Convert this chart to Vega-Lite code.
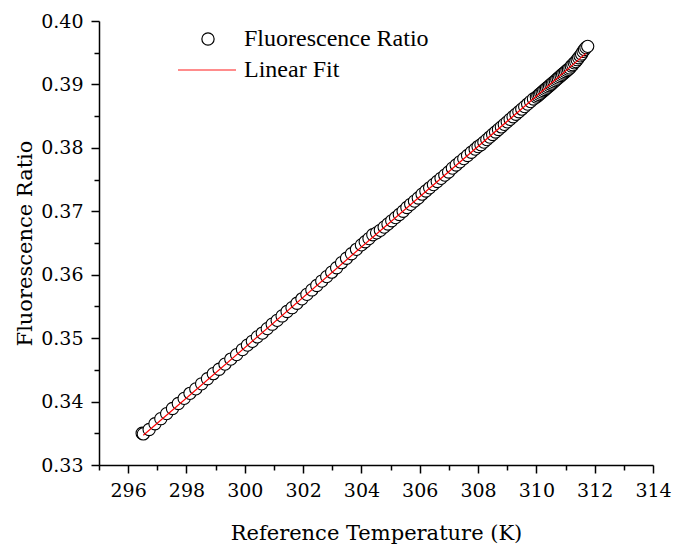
{
  "$schema": "https://vega.github.io/schema/vega-lite/v6.json",
  "width": 554,
  "height": 444,
  "autosize": {"type": "none"},
  "padding": {"left": 99, "top": 21, "right": 20, "bottom": 80},
  "config": {
    "view": {"stroke": null},
    "background": "white"
  },
  "datasets": {
    "pts": [
      {"T":296.48,"R":0.3350},{"T":296.52,"R":0.3349},{"T":296.72,"R":0.3356},{"T":296.92,"R":0.3365},{"T":297.12,"R":0.3373},{"T":297.32,"R":0.3381},{"T":297.52,"R":0.3389},{"T":297.72,"R":0.3397},{"T":297.92,"R":0.3405},{"T":298.12,"R":0.3413},{"T":298.32,"R":0.3420},{"T":298.52,"R":0.3428},{"T":298.72,"R":0.3436},{"T":298.92,"R":0.3444},{"T":299.12,"R":0.3451},{"T":299.32,"R":0.3459},{"T":299.52,"R":0.3467},{"T":299.72,"R":0.3474},{"T":299.92,"R":0.3482},
      {"T":300.09,"R":0.3489},{"T":300.26,"R":0.3495},{"T":300.43,"R":0.3502},{"T":300.60,"R":0.3508},{"T":300.77,"R":0.3515},{"T":300.94,"R":0.3522},{"T":301.11,"R":0.3528},{"T":301.28,"R":0.3535},{"T":301.45,"R":0.3542},{"T":301.62,"R":0.3548},{"T":301.79,"R":0.3555},{"T":301.96,"R":0.3562},{"T":302.13,"R":0.3569},{"T":302.30,"R":0.3576},{"T":302.47,"R":0.3583},{"T":302.64,"R":0.3590},{"T":302.81,"R":0.3597},{"T":302.98,"R":0.3604},{"T":303.15,"R":0.3611},{"T":303.32,"R":0.3619},{"T":303.49,"R":0.3626},{"T":303.66,"R":0.3633},{"T":303.83,"R":0.3640},{"T":304.00,"R":0.3647},
      {"T":304.13,"R":0.3652},{"T":304.26,"R":0.3657},{"T":304.39,"R":0.3663},{"T":304.52,"R":0.3666},{"T":304.65,"R":0.3670},{"T":304.78,"R":0.3675},{"T":304.91,"R":0.3680},{"T":305.04,"R":0.3685},{"T":305.17,"R":0.3690},{"T":305.30,"R":0.3695},{"T":305.43,"R":0.3700},{"T":305.56,"R":0.3706},{"T":305.69,"R":0.3711},{"T":305.82,"R":0.3716},{"T":305.95,"R":0.3721},{"T":306.08,"R":0.3727},{"T":306.21,"R":0.3732},{"T":306.34,"R":0.3737},{"T":306.47,"R":0.3742},{"T":306.60,"R":0.3747},{"T":306.73,"R":0.3752},{"T":306.86,"R":0.3757},{"T":306.99,"R":0.3762},{"T":307.12,"R":0.3768},{"T":307.25,"R":0.3773},{"T":307.38,"R":0.3778},{"T":307.51,"R":0.3783},{"T":307.64,"R":0.3788},{"T":307.77,"R":0.3793},{"T":307.90,"R":0.3798},
      {"T":308.0,"R":0.3802},{"T":308.1,"R":0.3805},{"T":308.2,"R":0.3809},{"T":308.3,"R":0.3813},{"T":308.4,"R":0.3817},{"T":308.5,"R":0.3821},{"T":308.6,"R":0.3825},{"T":308.7,"R":0.3829},{"T":308.8,"R":0.3833},{"T":308.9,"R":0.3837},{"T":309.0,"R":0.3841},{"T":309.1,"R":0.3845},{"T":309.2,"R":0.3849},{"T":309.3,"R":0.3853},{"T":309.4,"R":0.3857},{"T":309.5,"R":0.3861},{"T":309.6,"R":0.3865},{"T":309.7,"R":0.3869},{"T":309.8,"R":0.3873},{"T":309.9,"R":0.3877},
      {"T":310.00,"R":0.3880},{"T":310.05,"R":0.3882},{"T":310.10,"R":0.3884},{"T":310.15,"R":0.3886},{"T":310.20,"R":0.3888},{"T":310.25,"R":0.3890},{"T":310.30,"R":0.3892},{"T":310.35,"R":0.3894},{"T":310.40,"R":0.3896},{"T":310.45,"R":0.3898},{"T":310.50,"R":0.3900},{"T":310.55,"R":0.3902},{"T":310.60,"R":0.3904},{"T":310.65,"R":0.3906},{"T":310.70,"R":0.3908},{"T":310.75,"R":0.3910},{"T":310.80,"R":0.3912},{"T":310.85,"R":0.3914},{"T":310.90,"R":0.3916},{"T":310.95,"R":0.3918},{"T":311.00,"R":0.3920},{"T":311.05,"R":0.3922},{"T":311.10,"R":0.3924},{"T":311.15,"R":0.3926},{"T":311.20,"R":0.3929},{"T":311.25,"R":0.3931},{"T":311.30,"R":0.3934},{"T":311.35,"R":0.3936},{"T":311.40,"R":0.3939},{"T":311.45,"R":0.3942},{"T":311.50,"R":0.3945},{"T":311.55,"R":0.3948},{"T":311.60,"R":0.3952},{"T":311.65,"R":0.3955},{"T":311.70,"R":0.3958},{"T":311.76,"R":0.3960}
    ],
    "fit": [
      {"T":296.52,"R":0.3347},
      {"T":311.70,"R":0.3949}
    ]
  },
  "encoding": {
    "x": {
      "field": "T", "type": "quantitative",
      "scale": {"domain": [295, 314], "nice": false, "zero": false},
      "axis": {
        "values": [295, 296, 297, 298, 299, 300, 301, 302, 303, 304, 305, 306, 307, 308, 309, 310, 311, 312, 313, 314],
        "labelExpr": "datum.value % 2 === 0 ? datum.label : ''",
        "grid": false, "domainColor": "black", "domainWidth": 1.5,
        "tickColor": "black", "tickWidth": 1.5,
        "tickSize": {"condition": {"test": "datum.value % 2 === 0", "value": 8}, "value": 5},
        "labelFont": "DejaVu Serif", "labelFontSize": 19, "labelColor": "black", "labelPadding": 8,
        "labelFlush": false, "labelOverlap": false, "labelBound": false,
        "title": "Reference Temperature (K)", "titleFont": "DejaVu Serif", "titleFontSize": 21,
        "titleFontWeight": "normal", "titleColor": "black", "titlePadding": 22
      }
    },
    "y": {
      "field": "R", "type": "quantitative",
      "scale": {"domain": [0.33, 0.40], "nice": false, "zero": false},
      "axis": {
        "values": [0.33, 0.335, 0.34, 0.345, 0.35, 0.355, 0.36, 0.365, 0.37, 0.375, 0.38, 0.385, 0.39, 0.395, 0.40],
        "labelExpr": "abs(datum.value * 100 - round(datum.value * 100)) < 0.01 ? format(datum.value, '.2f') : ''",
        "grid": false, "domainColor": "black", "domainWidth": 1.5,
        "tickColor": "black", "tickWidth": 1.5,
        "tickSize": {"condition": {"test": "abs(datum.value * 100 - round(datum.value * 100)) < 0.01", "value": 8}, "value": 5},
        "labelFont": "DejaVu Serif", "labelFontSize": 19, "labelColor": "black", "labelPadding": 8,
        "labelFlush": false, "labelOverlap": false, "labelBound": false,
        "title": "Fluorescence Ratio", "titleFont": "DejaVu Serif", "titleFontSize": 21,
        "titleFontWeight": "normal", "titleColor": "black", "titlePadding": 5
      }
    }
  },
  "layer": [
    {
      "data": {"name": "pts"},
      "mark": {"type": "point", "shape": "circle", "size": 150, "filled": false, "fill": "white", "fillOpacity": 1, "strokeWidth": 1.1, "opacity": 1},
      "encoding": {
        "stroke": {
          "datum": "Fluorescence Ratio",
          "scale": {"domain": ["Fluorescence Ratio"], "range": ["black"]},
          "legend": {
            "orient": "none", "legendX": 97, "legendY": 6, "title": null, "padding": 0,
            "symbolType": "circle", "symbolSize": 150, "symbolFillColor": "white", "symbolStrokeWidth": 1.2, "symbolOpacity": 1,
            "labelFont": "Liberation Serif", "labelFontSize": 24, "labelColor": "black", "labelOffset": 24, "labelLimit": 400
          }
        }
      }
    },
    {
      "data": {"name": "fit"},
      "mark": {"type": "line", "strokeWidth": 1.2},
      "encoding": {
        "color": {
          "datum": "Linear Fit",
          "scale": {"domain": ["Linear Fit"], "range": ["#ff0000"]},
          "legend": {
            "orient": "none", "legendX": 78, "legendY": 19, "title": null, "padding": 0,
            "symbolType": "stroke", "symbolSize": 3364, "symbolStrokeWidth": 1.5, "symbolOpacity": 0.6,
            "labelFont": "Liberation Serif", "labelFontSize": 24, "labelColor": "black", "labelOffset": 7, "labelLimit": 400
          }
        }
      }
    }
  ]
}
